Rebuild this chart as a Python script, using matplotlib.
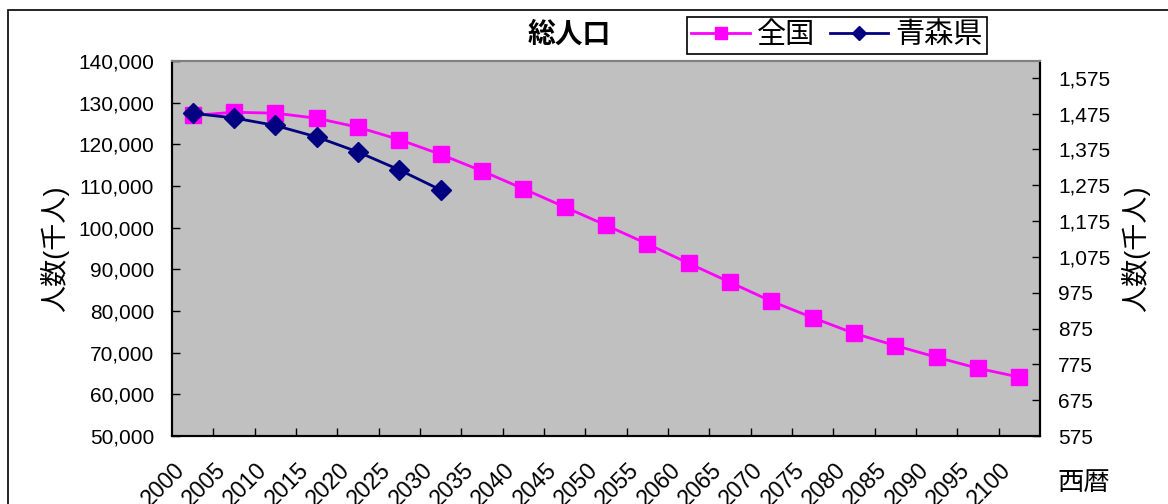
import numpy as np
import matplotlib.pyplot as plt
from matplotlib.ticker import FuncFormatter
from matplotlib.transforms import ScaledTranslation
from matplotlib.patches import Rectangle

plt.rcParams['font.family'] = ['Liberation Sans', 'Noto Sans CJK JP']

years = list(range(2000, 2101, 5))
# 総人口 (千人)
national = [126926, 127708, 127473, 126266, 124107, 121136, 117580, 113602,
            109338, 104960, 100593, 96100, 91450, 86900, 82350, 78400,
            74650, 71700, 68900, 66250, 64137]
aomori = [1476, 1463, 1442, 1410, 1368, 1318, 1262]

W, H = 1168, 504
fig = plt.figure(figsize=(W / 100, H / 100), dpi=100)
ax = fig.add_axes([172 / W, 68 / H, 868 / W, 375 / H])
ax.set_facecolor('#C0C0C0')

x = np.arange(len(years))
ax.plot(x, national, color='#FF00FF', lw=2, marker='s', ms=11,
        mec='#FF00FF', label='全国')
ax2 = ax.twinx()
ax2.plot(x[:len(aomori)], aomori, color='#000080', lw=2, marker='D', ms=10,
         mec='#000080', label='青森県')

ax.set_xlim(-0.5, len(years) - 0.5)
ax.set_ylim(50000, 140000)
ax.set_yticks(range(50000, 140001, 10000))
ax2.set_ylim(575, 1622)
ax2.set_yticks(range(575, 1576, 100))

fmt = FuncFormatter(lambda v, _: f"{v:,.0f}")
ax.yaxis.set_major_formatter(fmt)
ax2.yaxis.set_major_formatter(fmt)

ax.set_xticks(x)
ax.set_xticklabels([str(y) for y in years], rotation=45, ha='right',
                   rotation_mode='anchor')
ax.set_xticks(np.arange(0.5, len(years) - 1), minor=True)
ax.tick_params(axis='x', which='major', length=0, pad=16, labelsize=16.5)
ax.tick_params(axis='x', which='minor', direction='in', length=6, width=1)
shift = ScaledTranslation(-20 / 100, 0, fig.dpi_scale_trans)
for lab in ax.get_xticklabels():
    lab.set_transform(lab.get_transform() + shift)

ax.tick_params(axis='y', direction='in', length=6, width=1, pad=13,
               labelsize=15)
ax2.tick_params(axis='y', direction='in', length=6, width=1, pad=13,
                labelsize=15)

for a in (ax, ax2):
    for side in ('left', 'bottom', 'right'):
        a.spines[side].set_color('black')
        a.spines[side].set_linewidth(1.5)
    a.spines['top'].set_color('#808080')
    a.spines['top'].set_linewidth(1.5)

ax.set_ylabel('人数(千人)', fontsize=19.5)
ax.yaxis.set_label_coords((69 - 172) / 868, 0.5)
ax2.set_ylabel('人数(千人)', fontsize=19.5)
ax2.yaxis.set_label_coords((1121 - 172) / 868, 0.5)

fig.text(569 / W, 1 - 36 / H, '総人口', fontsize=20, fontweight='bold',
         ha='center', va='center')
fig.text(1084 / W, 1 - 483 / H, '西暦', fontsize=19, ha='center', va='center')

h1, l1 = ax.get_legend_handles_labels()
h2, l2 = ax2.get_legend_handles_labels()
leg = fig.legend(h1 + h2, l1 + l2, loc='upper left',
                 bbox_to_anchor=(687 / W, 1 - 17 / H), ncol=2, fontsize=21,
                 frameon=True, fancybox=False, edgecolor='black',
                 framealpha=1, markerscale=0.75, handlelength=2.0,
                 handletextpad=0.25, columnspacing=0.5, borderpad=0.15,
                 borderaxespad=0)
leg.get_frame().set_linewidth(1.2)

# chart frame
fig.patches.append(Rectangle((8 / W, -0.5), 2, 0.5 + 1 - 10 / H,
                             transform=fig.transFigure, fill=False,
                             edgecolor='black', lw=1.2))

fig.savefig('out.png', dpi=100)
